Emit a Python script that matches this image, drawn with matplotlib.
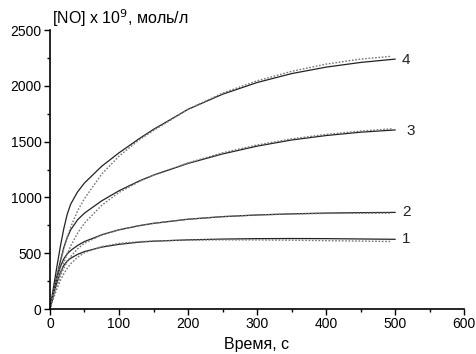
import matplotlib
matplotlib.use("Agg")
import matplotlib.pyplot as plt
from matplotlib.ticker import MultipleLocator

plt.rcParams['font.family'] = ['Liberation Sans', 'DejaVu Sans']

# time points, s
t = [0, 5, 10, 15, 20, 25, 30, 40, 50, 75, 100, 130, 150, 200, 250, 300, 350, 400, 450, 500]

# measured [NO] x 1e9, mol/l (solid lines)
no_1 = [0, 125, 235, 325, 390, 430, 455, 490, 515, 555, 580, 600, 608, 620, 627, 631, 632, 631, 628, 625]
no_2 = [0, 145, 280, 380, 450, 495, 525, 570, 605, 665, 710, 748, 768, 805, 828, 843, 853, 860, 864, 866]
no_3 = [0, 150, 295, 430, 550, 640, 710, 800, 860, 970, 1060, 1150, 1200, 1305, 1390, 1460, 1515, 1555, 1585, 1605]
no_4 = [0, 190, 380, 560, 720, 850, 940, 1050, 1130, 1280, 1400, 1530, 1610, 1790, 1925, 2030, 2110, 2168, 2210, 2240]

# fitted curves (dotted lines)
tf = [0, 5, 10, 15, 20, 25, 30, 40, 50, 75, 100, 130, 150, 200, 250, 300, 350, 400, 450, 495]
fit_1 = [0, 95, 180, 255, 315, 365, 405, 465, 505, 560, 588, 604, 610, 618, 620, 619, 617, 613, 609, 605]
fit_2 = [0, 110, 210, 295, 365, 425, 470, 540, 590, 665, 710, 748, 768, 805, 828, 843, 852, 857, 859, 860]
fit_3 = [0, 115, 225, 325, 415, 495, 565, 680, 770, 930, 1045, 1145, 1200, 1310, 1400, 1470, 1525, 1565, 1595, 1615]
fit_4 = [0, 150, 290, 420, 540, 645, 735, 880, 990, 1210, 1370, 1520, 1600, 1790, 1935, 2045, 2130, 2195, 2240, 2265]

curve_labels = ['1', '2', '3', '4']
label_pos = [(510, 625), (510, 866), (516, 1598), (510, 2230)]

fig = plt.figure(figsize=(4.76, 3.54), dpi=100)
ax = fig.add_axes([0.105, 0.127, 0.87, 0.788])

for y in [no_1, no_2, no_3, no_4]:
    ax.plot(t, y, color='#222222', lw=0.9)
for y in [fit_1, fit_2, fit_3, fit_4]:
    ax.plot(tf, y, color='#777777', lw=1.0, ls=(0, (1.2, 1.2)))

for lab, (lx, ly) in zip(curve_labels, label_pos):
    ax.text(lx, ly, lab, fontsize=11, va='center', ha='left', color='#222222')

ax.set_xlim(0, 600)
ax.set_ylim(0, 2500)
ax.xaxis.set_major_locator(MultipleLocator(100))
ax.xaxis.set_minor_locator(MultipleLocator(50))
ax.yaxis.set_major_locator(MultipleLocator(500))
ax.yaxis.set_minor_locator(MultipleLocator(250))
ax.tick_params(which='major', direction='out', length=4, width=1, labelsize=10, pad=2)
ax.tick_params(which='minor', direction='out', length=2.5, width=1)

ax.spines['top'].set_visible(False)
ax.spines['right'].set_visible(False)
ax.spines['left'].set_linewidth(1.2)
ax.spines['bottom'].set_linewidth(1.2)

ax.set_xlabel('Время, с', fontsize=11.5, labelpad=4)
ax.text(0.005, 1.005, '[NO] x 10$^9$, моль/л', transform=ax.transAxes,
        fontsize=11.5, ha='left', va='bottom')

fig.savefig('out.png', dpi=100)
